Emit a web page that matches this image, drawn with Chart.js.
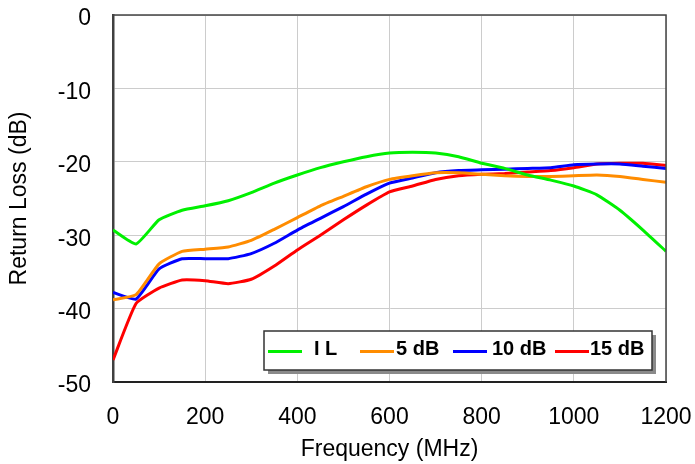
<!DOCTYPE html>
<html>
<head>
<meta charset="utf-8">
<script src="https://cdn.jsdelivr.net/npm/chart.js@4/dist/chart.umd.min.js"></script>
<style>
  html, body { margin: 0; padding: 0; background: #fff; }
  #wrap { width: 695px; height: 464px; }
</style>
</head>
<body>
<div id="wrap"><canvas id="rl"></canvas></div>
<script>
// frequency points (MHz)
const freq = [0, 50, 100, 150, 200, 250, 300, 350, 400, 450, 500, 550, 600,
              650, 700, 750, 800, 850, 900, 950, 1000, 1050, 1100, 1150, 1200];

// series (dB)
const seriesIL = [-29.3, -31.2, -27.9, -26.6, -26.0, -25.3, -24.2, -22.9, -21.8, -20.8, -20.0, -19.3, -18.8,
                  -18.7, -18.8, -19.3, -20.2, -20.9, -21.8, -22.5, -23.3, -24.5, -26.6, -29.3, -32.2];
const series5 = [-38.8, -38.1, -33.9, -32.2, -31.9, -31.6, -30.7, -29.2, -27.6, -26.0, -24.7, -23.4, -22.4,
                 -21.9, -21.5, -21.5, -21.7, -21.9, -22.0, -22.0, -21.9, -21.8, -22.0, -22.4, -22.8];
const series10 = [-37.8, -38.7, -34.6, -33.2, -33.2, -33.2, -32.5, -31.1, -29.3, -27.7, -26.1, -24.4, -22.9,
                  -22.2, -21.5, -21.2, -21.1, -21.0, -20.9, -20.8, -20.4, -20.3, -20.3, -20.6, -20.9];
const series15 = [-47.0, -39.3, -37.2, -36.1, -36.2, -36.6, -36.0, -34.2, -32.0, -30.0, -27.9, -25.9, -24.1,
                  -23.3, -22.4, -21.9, -21.7, -21.6, -21.4, -21.2, -20.8, -20.3, -20.2, -20.2, -20.5];

const seriesNames = ['I L', '5 dB', '10 dB', '15 dB'];
const xTicks = [0, 200, 400, 600, 800, 1000, 1200];
const yTicks = [0, -10, -20, -30, -40, -50];

const FONT = "'Liberation Sans', Arial, sans-serif";

function toPoints(ys) {
    return freq.map((f, i) => ({ x: f, y: ys[i] }));
}

// no extra room for overflowing labels, the plot box is fixed
function noPad(s) {
    s.paddingTop = 0;
    s.paddingBottom = 0;
    s.paddingLeft = 0;
    s.paddingRight = 0;
}

// frame on top / right, plus the boxed legend inside the plot
const frameAndLegend = {
    id: 'frameAndLegend',
    afterDatasetsDraw(chart) {
        const { ctx, chartArea: a } = chart;
        ctx.save();
        ctx.strokeStyle = '#444';
        ctx.lineWidth = 1.5;
        ctx.beginPath();
        ctx.moveTo(a.left, a.top);
        ctx.lineTo(a.right, a.top);
        ctx.lineTo(a.right, a.bottom);
        ctx.stroke();

        // legend box
        const bx = 264, by = 331, bw = 388, bh = 39;
        ctx.fillStyle = '#8a8a8a';
        ctx.fillRect(bx + 4, by + 4, bw, bh);
        ctx.fillStyle = '#fff';
        ctx.fillRect(bx, by, bw, bh);
        ctx.strokeStyle = '#333';
        ctx.lineWidth = 1.5;
        ctx.strokeRect(bx, by, bw, bh);

        const lineStarts = [268, 360, 453, 555];
        const textStarts = [314, 396, 492, 590];
        ctx.font = "bold 20px " + FONT;
        ctx.textBaseline = 'middle';
        ctx.textAlign = 'left';
        chart.data.datasets.forEach((ds, i) => {
            ctx.strokeStyle = ds.borderColor;
            ctx.lineWidth = 3;
            ctx.beginPath();
            ctx.moveTo(lineStarts[i], 351.5);
            ctx.lineTo(lineStarts[i] + 34, 351.5);
            ctx.stroke();
            ctx.fillStyle = '#000';
            ctx.fillText(ds.label, textStarts[i], 349);
        });
        ctx.restore();
    }
};

new Chart(document.getElementById('rl'), {
    type: 'line',
    data: {
        datasets: [
            { label: seriesNames[0], data: toPoints(seriesIL), borderColor: '#00f000' },
            { label: seriesNames[1], data: toPoints(series5), borderColor: '#ff8c00' },
            { label: seriesNames[2], data: toPoints(series10), borderColor: '#0000ff' },
            { label: seriesNames[3], data: toPoints(series15), borderColor: '#ff0000' }
        ].map(d => Object.assign(d, {
            borderWidth: 3,
            pointRadius: 0,
            tension: 0.15,
            fill: false
        }))
    },
    options: {
        responsive: true,
        maintainAspectRatio: false,
        animation: false,
        layout: { padding: { top: 15, right: 29, left: 0, bottom: 0 } },
        plugins: {
            legend: { display: false },
            tooltip: { enabled: false }
        },
        scales: {
            x: {
                type: 'linear',
                min: 0,
                max: 1200,
                afterBuildTicks: s => { s.ticks = xTicks.map(v => ({ value: v })); },
                afterFit: s => { s.height = 82; noPad(s); },
                ticks: {
                    color: '#000',
                    font: { family: FONT, size: 23 },
                    padding: 22,
                    maxRotation: 0,
                    callback: v => String(v)
                },
                grid: { color: '#cccccc', lineWidth: 1, drawTicks: false },
                border: { color: '#222', width: 2 },
                title: {
                    display: true,
                    text: 'Frequency (MHz)',
                    color: '#000',
                    font: { family: FONT, size: 23 },
                    padding: { top: 0, bottom: 1 }
                }
            },
            y: {
                min: -50,
                max: 0,
                afterBuildTicks: s => { s.ticks = yTicks.map(v => ({ value: v })); },
                afterFit: s => { s.width = 113; noPad(s); },
                ticks: {
                    color: '#000',
                    font: { family: FONT, size: 23 },
                    padding: 22,
                    labelOffset: 4,
                    callback: v => String(v)
                },
                grid: { color: '#cccccc', lineWidth: 1, drawTicks: false },
                border: { color: '#404040', width: 2.5 },
                title: {
                    display: true,
                    text: 'Return Loss (dB)',
                    color: '#000',
                    font: { family: FONT, size: 23 },
                    padding: { top: 6, bottom: 0 }
                }
            }
        }
    },
    plugins: [frameAndLegend]
});
</script>
</body>
</html>
